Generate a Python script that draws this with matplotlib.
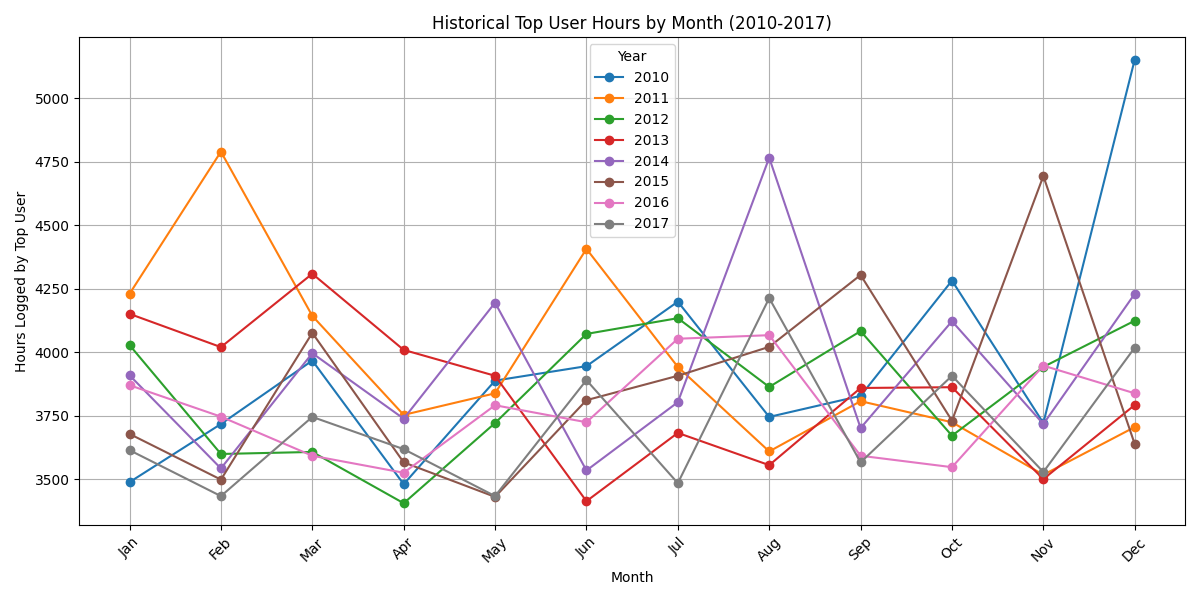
import matplotlib.pyplot as plt

months = ['Jan', 'Feb', 'Mar', 'Apr', 'May', 'Jun',
          'Jul', 'Aug', 'Sep', 'Oct', 'Nov', 'Dec']

hours_2010 = [3488, 3717, 3967, 3480, 3888, 3945, 4199, 3745, 3828, 4282, 3721, 5153]
hours_2011 = [4230, 4790, 4143, 3753, 3838, 4407, 3942, 3609, 3807, 3724, 3517, 3705]
hours_2012 = [4028, 3599, 3607, 3405, 3721, 4072, 4134, 3863, 4083, 3671, 3942, 4124]
hours_2013 = [4151, 4020, 4309, 4009, 3907, 3413, 3682, 3555, 3859, 3862, 3500, 3792]
hours_2014 = [3909, 3542, 3996, 3738, 4195, 3534, 3803, 4766, 3701, 4122, 3717, 4230]
hours_2015 = [3678, 3498, 4076, 3566, 3430, 3811, 3907, 4021, 4304, 3730, 4694, 3638]
hours_2016 = [3870, 3746, 3592, 3525, 3791, 3724, 4053, 4067, 3592, 3547, 3947, 3838]
hours_2017 = [3614, 3433, 3745, 3618, 3433, 3890, 3484, 4213, 3566, 3907, 3528, 4018]

years = [2010, 2011, 2012, 2013, 2014, 2015, 2016, 2017]
series = [hours_2010, hours_2011, hours_2012, hours_2013,
          hours_2014, hours_2015, hours_2016, hours_2017]

fig, ax = plt.subplots(figsize=(12, 6), dpi=100)

for year, values in zip(years, series):
    ax.plot(months, values, marker='o', label=str(year))

ax.set_title('Historical Top User Hours by Month (2010-2017)')
ax.set_xlabel('Month')
ax.set_ylabel('Hours Logged by Top User')
ax.tick_params(axis='x', rotation=45)
ax.grid(True)
ax.legend(title='Year', loc='upper center')

plt.tight_layout()
plt.savefig('out.png')
